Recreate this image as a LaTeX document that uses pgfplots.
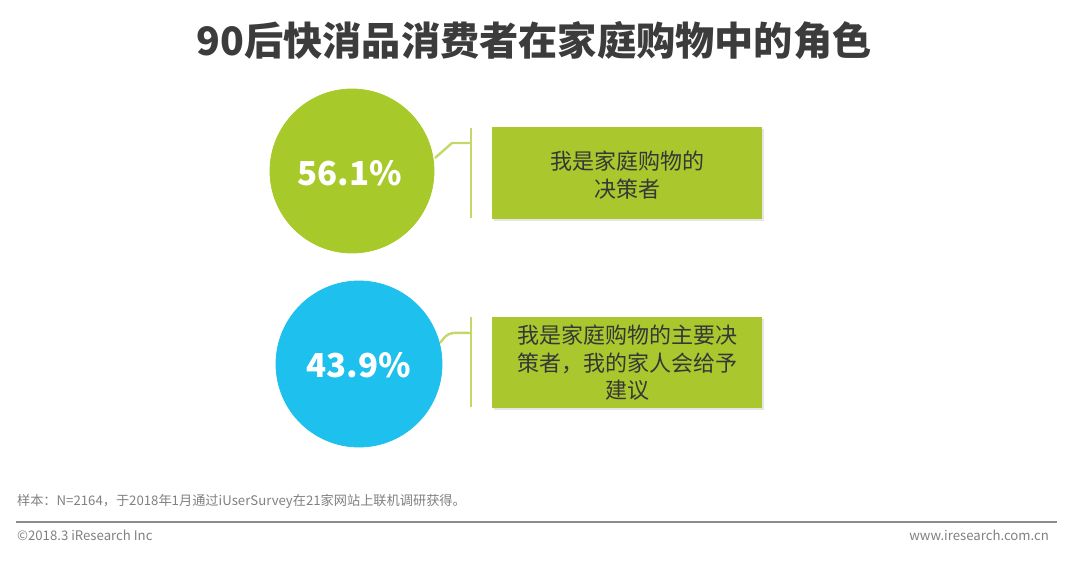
\documentclass[border=0pt]{standalone}
\usepackage{fontspec}
\setmainfont{Noto Sans CJK SC}
\usepackage{pgfplots}
\pgfplotsset{compat=1.18}
\definecolor{lime}{RGB}{168,201,42}
\definecolor{boxg}{RGB}{170,200,45}
\definecolor{cyanb}{RGB}{30,192,238}
\definecolor{titleg}{RGB}{60,60,60}
\definecolor{txt}{RGB}{55,55,55}
\definecolor{foot}{RGB}{128,128,128}
\begin{document}
\begin{tikzpicture}
\begin{axis}[
    width=540pt, height=282pt, scale only axis,
    xmin=0, xmax=1080, ymin=0, ymax=564,
    y dir=reverse, hide axis, clip=false, set layers,
]
% frame that fixes the page size
\addplot[draw=none, forget plot] coordinates {(0,0) (1080,564)};
% circles
\addplot[only marks, mark=*, mark size=41pt, color=lime] coordinates {(352,171)};
\addplot[only marks, mark=*, mark size=41.5pt, color=cyanb] coordinates {(359,364)};
% connectors
\addplot[color=lime!70, line width=1.2pt] coordinates {(435,158) (452,143) (471,143)};
\addplot[color=lime!70, line width=1.2pt] coordinates {(471,128) (471,218)};
\addplot[color=lime!70, line width=1.2pt, smooth] coordinates {(440,343) (446,336) (453,333) (471,333)};
\addplot[color=lime!70, line width=1.2pt] coordinates {(471,317) (471,407)};
% boxes
\addplot[fill=black!10, draw=none] coordinates {(494,129) (764,129) (764,221) (494,221)} -- cycle;
\addplot[fill=boxg, draw=none] coordinates {(492,127) (762,127) (762,219) (492,219)} -- cycle;
\addplot[fill=black!10, draw=none] coordinates {(494,319) (764,319) (764,410) (494,410)} -- cycle;
\addplot[fill=boxg, draw=none] coordinates {(492,317) (762,317) (762,408) (492,408)} -- cycle;
% footer rule
\addplot[color=black!45, line width=0.6pt] coordinates {(16,522) (1057,522)};
% texts
\begin{pgfonlayer}{axis foreground}
\node[text=titleg, font=\fontsize{19.6}{23}\selectfont\bfseries] at (axis cs:534,40) {90后快消品消费者在家庭购物中的角色};
\node[text=white, font=\fontsize{16.5}{20}\selectfont\bfseries] at (axis cs:350,173) {56.1\%};
\node[text=white, font=\fontsize{16.5}{20}\selectfont\bfseries] at (axis cs:359,365) {43.9\%};
\node[text=txt, font=\fontsize{11}{13.8}\selectfont, align=center] at (axis cs:627,175) {我是家庭购物的\\决策者};
\node[text=txt, font=\fontsize{11}{13.8}\selectfont, align=center] at (axis cs:627,363) {我是家庭购物的主要决\\策者，我的家人会给予\\建议};
\node[text=foot, font=\fontsize{6.6}{8}\selectfont, anchor=west] at (axis cs:10,501) {样本：N=2164，于2018年1月通过iUserSurvey在21家网站上联机调研获得。};
\node[text=foot, font=\fontsize{6.6}{8}\selectfont, anchor=west] at (axis cs:10,535) {©2018.3 iResearch Inc};
\node[text=foot, font=\fontsize{6.6}{8}\selectfont, anchor=east] at (axis cs:1056,535) {www.iresearch.com.cn};
\end{pgfonlayer}
\end{axis}
\end{tikzpicture}
\end{document}
